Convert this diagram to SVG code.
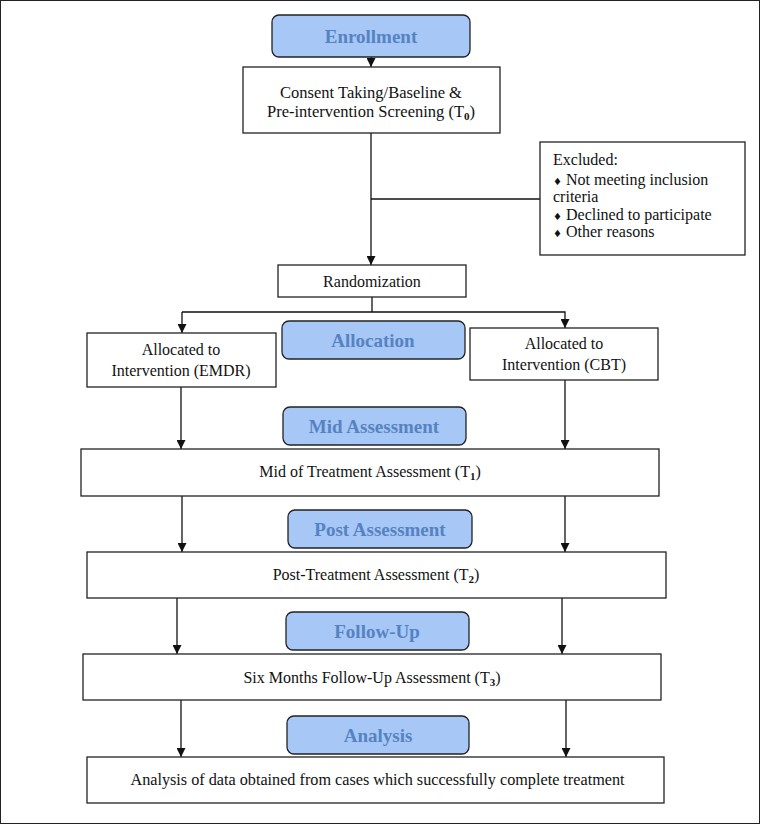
<svg xmlns="http://www.w3.org/2000/svg" width="760" height="824" viewBox="0 0 760 824">
<style>
.box{fill:#fff;stroke:#222;stroke-width:1.3}
.lab{fill:#a7c7f7;stroke:#222;stroke-width:1.3}
.t{font-family:"Liberation Serif","Times New Roman",serif;font-size:16px;fill:#111}
.c{text-anchor:middle}
.lt{font-family:"Liberation Serif","Times New Roman",serif;font-size:19px;font-weight:bold;fill:#5683c0;text-anchor:middle}
.ln{fill:none;stroke:#111;stroke-width:1.3}
.sub{font-size:11px;font-weight:bold}
.bul{font-family:"DejaVu Sans",sans-serif;font-size:10px}
</style>
<defs>
<marker id="ah" viewBox="0 0 10 10" refX="10" refY="5" markerWidth="9" markerHeight="9" markerUnits="userSpaceOnUse" orient="auto">
<path d="M0,0 L10,5 L0,10 Z" fill="#111"/>
</marker>
</defs>
<rect x="0.5" y="0.5" width="759" height="823" fill="#fff" stroke="#222" stroke-width="1"/>
<g id="connectors">
<line class="ln" x1="371" y1="57" x2="371" y2="67" marker-end="url(#ah)"/>
<line class="ln" x1="371" y1="133" x2="371" y2="265" marker-end="url(#ah)"/>
<line class="ln" x1="371" y1="199" x2="540" y2="199"/>
<polyline class="ln" points="372,297 372,312"/>
<polyline class="ln" points="182,312 565,312 565,328" marker-end="url(#ah)"/>
<line class="ln" x1="182" y1="312" x2="182" y2="333" marker-end="url(#ah)"/>
<line class="ln" x1="181" y1="387" x2="181" y2="449" marker-end="url(#ah)"/>
<line class="ln" x1="565" y1="380" x2="565" y2="449" marker-end="url(#ah)"/>
<line class="ln" x1="182" y1="496" x2="182" y2="552" marker-end="url(#ah)"/>
<line class="ln" x1="565" y1="496" x2="565" y2="552" marker-end="url(#ah)"/>
<line class="ln" x1="177" y1="598" x2="177" y2="654" marker-end="url(#ah)"/>
<line class="ln" x1="562" y1="598" x2="562" y2="654" marker-end="url(#ah)"/>
<line class="ln" x1="181" y1="700" x2="181" y2="757" marker-end="url(#ah)"/>
<line class="ln" x1="566" y1="700" x2="566" y2="757" marker-end="url(#ah)"/>
</g>
<g id="enrollment">
<rect class="lab" x="272" y="15" width="198" height="42" rx="7"/>
<text class="lt" x="371" y="43">Enrollment</text>
</g>
<g id="consent">
<rect class="box" x="243" y="67" width="257" height="66"/>
<text class="t c" x="371" y="98" style="font-size:16.5px">Consent Taking/Baseline &amp;</text>
<text class="t c" x="371" y="117" style="font-size:16.5px">Pre-intervention Screening (T<tspan class="sub" dy="3">0</tspan><tspan dy="-3">)</tspan></text>
</g>
<g id="excluded">
<rect class="box" x="540" y="142" width="205" height="113"/>
<text class="t" x="553" y="165">Excluded:</text>
<text class="t" x="553" y="185"><tspan class="bul">♦</tspan> Not meeting inclusion</text>
<text class="t" x="553" y="202">criteria</text>
<text class="t" x="553" y="220"><tspan class="bul">♦</tspan> Declined to participate</text>
<text class="t" x="553" y="237"><tspan class="bul">♦</tspan> Other reasons</text>
</g>
<g id="randomization">
<rect class="box" x="278" y="265" width="188" height="32"/>
<text class="t c" x="372" y="287">Randomization</text>
</g>
<g id="allocation">
<rect class="lab" x="282" y="321" width="183" height="38" rx="7"/>
<text class="lt" x="373" y="347">Allocation</text>
</g>
<g id="emdr">
<rect class="box" x="87" y="333" width="189" height="54"/>
<text class="t c" x="181" y="355">Allocated to</text>
<text class="t c" x="181" y="376">Intervention (EMDR)</text>
</g>
<g id="cbt">
<rect class="box" x="470" y="328" width="188" height="52"/>
<text class="t c" x="564" y="349">Allocated to</text>
<text class="t c" x="564" y="370">Intervention (CBT)</text>
</g>
<g id="mid-label">
<rect class="lab" x="283" y="407" width="183" height="38" rx="7"/>
<text class="lt" x="374" y="433">Mid Assessment</text>
</g>
<g id="mid">
<rect class="box" x="81" y="449" width="578" height="47"/>
<text class="t c" x="370" y="477">Mid of Treatment Assessment (T<tspan class="sub" dy="3">1</tspan><tspan dy="-3">)</tspan></text>
</g>
<g id="post-label">
<rect class="lab" x="288" y="510" width="184" height="38" rx="7"/>
<text class="lt" x="380" y="536">Post Assessment</text>
</g>
<g id="post">
<rect class="box" x="87" y="552" width="579" height="46"/>
<text class="t c" x="376" y="580">Post-Treatment Assessment (T<tspan class="sub" dy="3">2</tspan><tspan dy="-3">)</tspan></text>
</g>
<g id="followup-label">
<rect class="lab" x="286" y="612" width="183" height="38" rx="7"/>
<text class="lt" x="377" y="638">Follow-Up</text>
</g>
<g id="followup">
<rect class="box" x="83" y="654" width="578" height="46"/>
<text class="t c" x="372" y="683">Six Months Follow-Up Assessment (T<tspan class="sub" dy="3">3</tspan><tspan dy="-3">)</tspan></text>
</g>
<g id="analysis-label">
<rect class="lab" x="287" y="716" width="182" height="38" rx="7"/>
<text class="lt" x="378" y="742">Analysis</text>
</g>
<g id="analysis">
<rect class="box" x="87" y="757" width="577" height="46"/>
<text class="t c" x="377.5" y="785" style="font-size:16.2px">Analysis of data obtained from cases which successfully complete treatment</text>
</g>
</svg>
